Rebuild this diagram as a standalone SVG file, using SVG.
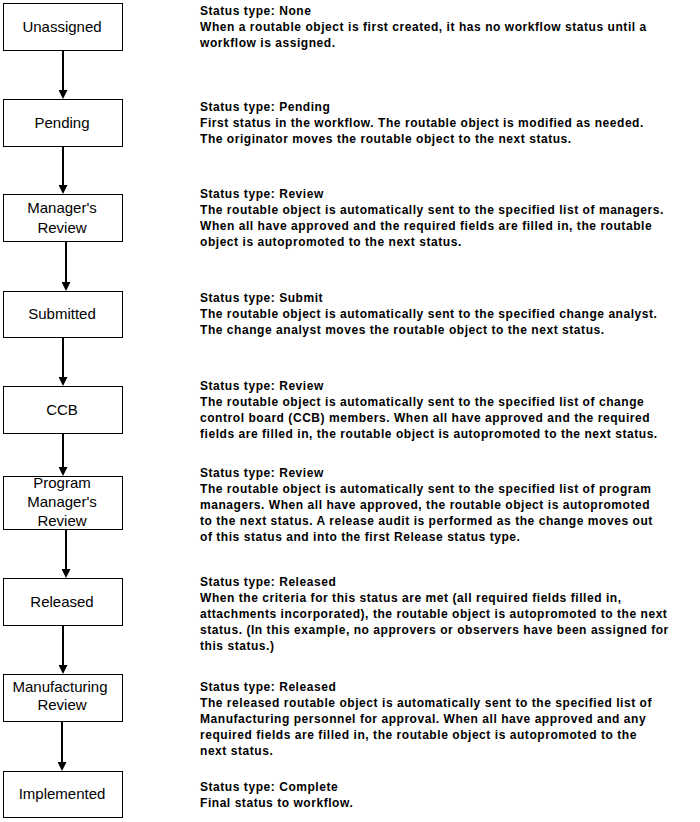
<svg xmlns="http://www.w3.org/2000/svg" width="700" height="822" viewBox="0 0 700 822">
<defs>
<style>
.box{fill:#fff;stroke:#000;stroke-width:1}
.lbl{font-family:"Liberation Sans",Arial,sans-serif;font-size:15px;fill:#000;text-anchor:middle}
.desc{font-family:"Liberation Sans",Arial,sans-serif;font-size:12px;font-weight:bold;fill:#000;letter-spacing:0.55px}
.arr{stroke:#000;stroke-width:2;fill:none;marker-end:url(#ah)}
</style>
<marker id="ah" viewBox="0 0 9 9" refX="1" refY="4.5" markerWidth="9" markerHeight="9" markerUnits="userSpaceOnUse" orient="auto">
<path d="M0,0 L9,4.5 L0,9 z" fill="#000"/>
</marker>
</defs>
<rect width="700" height="822" fill="#fff"/>
<g id="connectors">
<line class="arr" x1="63" y1="51" x2="63" y2="91"/>
<line class="arr" x1="63" y1="147" x2="63" y2="186"/>
<line class="arr" x1="66" y1="242" x2="66" y2="283"/>
<line class="arr" x1="63" y1="337" x2="63" y2="378"/>
<line class="arr" x1="63" y1="434" x2="63" y2="468"/>
<line class="arr" x1="66" y1="530" x2="66" y2="570"/>
<line class="arr" x1="63" y1="626" x2="63" y2="666"/>
<line class="arr" x1="62" y1="722" x2="62" y2="763"/>
</g>
<g id="unassigned"><rect class="box" x="3.5" y="3.5" width="119" height="47"/><text class="lbl" x="62" y="32">Unassigned</text></g>
<g id="pending"><rect class="box" x="3.5" y="99.5" width="119" height="47"/><text class="lbl" x="62" y="128">Pending</text></g>
<g id="managers-review"><rect class="box" x="3.5" y="194.5" width="119" height="47"/><text class="lbl" x="62" y="213">Manager's</text><text class="lbl" x="62" y="233">Review</text></g>
<g id="submitted"><rect class="box" x="3.5" y="291.5" width="119" height="46"/><text class="lbl" x="62" y="319">Submitted</text></g>
<g id="ccb"><rect class="box" x="3.5" y="386.5" width="119" height="47"/><text class="lbl" x="62" y="415">CCB</text></g>
<g id="program-managers-review"><rect class="box" x="3.5" y="476.5" width="119" height="53"/><text class="lbl" x="62" y="488">Program</text><text class="lbl" x="62" y="507">Manager's</text><text class="lbl" x="62" y="526">Review</text></g>
<g id="released"><rect class="box" x="3.5" y="578.5" width="119" height="47"/><text class="lbl" x="62" y="607">Released</text></g>
<g id="manufacturing-review"><rect class="box" x="3.5" y="674.5" width="119" height="47"/><text class="lbl" x="60" y="692">Manufacturing</text><text class="lbl" x="62" y="710">Review</text></g>
<g id="implemented"><rect class="box" x="3.5" y="771.5" width="119" height="46"/><text class="lbl" x="62" y="799">Implemented</text></g>
<g id="descriptions">
<text class="desc" x="200" y="15">Status type: None</text>
<text class="desc" x="200" y="31">When a routable object is first created, it has no workflow status until a</text>
<text class="desc" x="200" y="47">workflow is assigned.</text>
<text class="desc" x="200" y="111">Status type: Pending</text>
<text class="desc" x="200" y="127">First status in the workflow. The routable object is modified as needed.</text>
<text class="desc" x="200" y="143">The originator moves the routable object to the next status.</text>
<text class="desc" x="200" y="198">Status type: Review</text>
<text class="desc" x="200" y="214">The routable object is automatically sent to the specified list of managers.</text>
<text class="desc" x="200" y="230">When all have approved and the required fields are filled in, the routable</text>
<text class="desc" x="200" y="246">object is autopromoted to the next status.</text>
<text class="desc" x="200" y="302">Status type: Submit</text>
<text class="desc" x="200" y="318">The routable object is automatically sent to the specified change analyst.</text>
<text class="desc" x="200" y="334">The change analyst moves the routable object to the next status.</text>
<text class="desc" x="200" y="390">Status type: Review</text>
<text class="desc" x="200" y="406">The routable object is automatically sent to the specified list of change</text>
<text class="desc" x="200" y="422">control board (CCB) members. When all have approved and the required</text>
<text class="desc" x="200" y="438">fields are filled in, the routable object is autopromoted to the next status.</text>
<text class="desc" x="200" y="477">Status type: Review</text>
<text class="desc" x="200" y="493">The routable object is automatically sent to the specified list of program</text>
<text class="desc" x="200" y="509">managers. When all have approved, the routable object is autopromoted</text>
<text class="desc" x="200" y="525">to the next status. A release audit is performed as the change moves out</text>
<text class="desc" x="200" y="541">of this status and into the first Release status type.</text>
<text class="desc" x="200" y="586">Status type: Released</text>
<text class="desc" x="200" y="602">When the criteria for this status are met (all required fields filled in,</text>
<text class="desc" x="200" y="618">attachments incorporated), the routable object is autopromoted to the next</text>
<text class="desc" x="200" y="634">status. (In this example, no approvers or observers have been assigned for</text>
<text class="desc" x="200" y="650">this status.)</text>
<text class="desc" x="200" y="691">Status type: Released</text>
<text class="desc" x="200" y="707">The released routable object is automatically sent to the specified list of</text>
<text class="desc" x="200" y="723">Manufacturing personnel for approval. When all have approved and any</text>
<text class="desc" x="200" y="739">required fields are filled in, the routable object is autopromoted to the</text>
<text class="desc" x="200" y="755">next status.</text>
<text class="desc" x="200" y="791">Status type: Complete</text>
<text class="desc" x="200" y="807">Final status to workflow.</text>
</g>
</svg>
